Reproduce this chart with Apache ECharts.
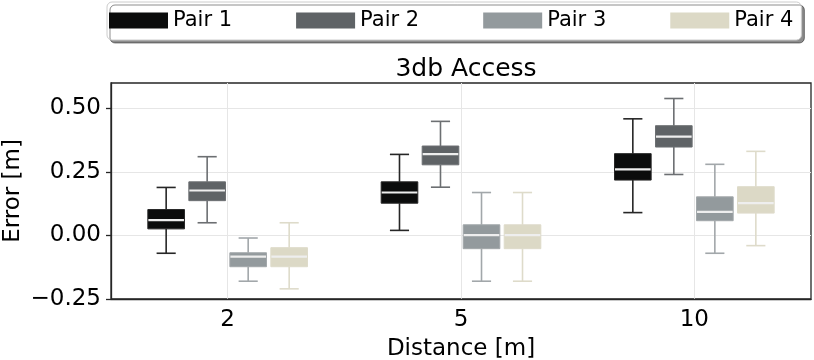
<!DOCTYPE html>
<html><head><meta charset="utf-8">
<script src="https://cdn.jsdelivr.net/npm/echarts@6/dist/echarts.min.js"></script>
<style>html,body{margin:0;padding:0;background:#fff}#c{width:814px;height:360px}</style>
</head><body><div id="c"></div>
<script>
// Distance categories (x axis)
const categories = ['2', '5', '10'];
const seriesNames = ['Pair 1', 'Pair 2', 'Pair 3', 'Pair 4'];
// Box stats per distance: [min whisker, Q1, median, Q3, max whisker]
const pair1 = [[-0.07, 0.026, 0.06, 0.102, 0.189], [0.02, 0.127, 0.169, 0.211, 0.319], [0.09, 0.218, 0.26, 0.322, 0.459]];
const pair2 = [[0.05, 0.137, 0.177, 0.211, 0.31], [0.19, 0.278, 0.32, 0.352, 0.449], [0.24, 0.348, 0.389, 0.432, 0.539]];
const pair3 = [[-0.18, -0.123, -0.083, -0.068, -0.01], [-0.18, -0.052, 0.001, 0.042, 0.169], [-0.07, 0.058, 0.093, 0.152, 0.28]];
const pair4 = [[-0.21, -0.123, -0.083, -0.048, 0.05], [-0.18, -0.052, 0.001, 0.042, 0.169], [-0.04, 0.088, 0.127, 0.192, 0.331]];
const yTicks = [-0.25, 0, 0.25, 0.5];

const pairs = [pair1, pair2, pair3, pair4];
const fills = ['#0b0c0c', '#5f6366', '#939a9d', '#dcd9c6'];
const lineColors = ['#262626', '#6c6f72', '#a2a7aa', '#dedbca'];
const offsets = [-0.2636, -0.0879, 0.0879, 0.2636];
const boxFrac = 0.157, capFrac = 0.082;
const FONT = 'DejaVu Sans';

function makeRender(i) {
  return function (params, api) {
    const c = api.value(0);
    const band = api.size([1, 0])[0];
    const cx = api.coord([c, 0])[0] + offsets[i] * band;
    const w = boxFrac * band, cap = capFrac * band;
    const y = k => api.coord([c, api.value(k)])[1];
    const yMin = y(1), yQ1 = y(2), yMed = y(3), yQ3 = y(4), yMax = y(5);
    const ls = { stroke: lineColors[i], lineWidth: 1.6 };
    return {
      type: 'group',
      children: [
        { type: 'line', shape: { x1: cx, y1: yMax, x2: cx, y2: yQ3 }, style: ls },
        { type: 'line', shape: { x1: cx, y1: yQ1, x2: cx, y2: yMin }, style: ls },
        { type: 'line', shape: { x1: cx - cap / 2, y1: yMax, x2: cx + cap / 2, y2: yMax }, style: ls },
        { type: 'line', shape: { x1: cx - cap / 2, y1: yMin, x2: cx + cap / 2, y2: yMin }, style: ls },
        { type: 'rect', shape: { x: cx - w / 2, y: yQ3, width: w, height: yQ1 - yQ3 },
          style: { fill: fills[i], stroke: lineColors[i], lineWidth: 1 } },
        { type: 'line', shape: { x1: cx - w / 2 + 0.5, y1: yMed, x2: cx + w / 2 - 0.5, y2: yMed },
          style: { stroke: '#eeeeee', lineWidth: 2.2 } }
      ]
    };
  };
}

const series = pairs.map((p, i) => ({
  name: seriesNames[i],
  type: 'custom',
  renderItem: makeRender(i),
  itemStyle: { color: fills[i] },
  encode: { x: 0, y: [1, 2, 3, 4, 5] },
  data: p.map((s, ci) => [ci].concat(s))
}));

const chart = echarts.init(document.getElementById('c'), null, { renderer: 'canvas' });
chart.setOption({
  animation: false,
  backgroundColor: '#ffffff',
  title: {
    text: '3db Access', left: 461, textAlign: 'center', top: 52,
    textStyle: { fontFamily: FONT, fontSize: 25, fontWeight: 'normal', color: '#000' }
  },
  legend: {
    data: seriesNames, left: 107, top: 2, icon: 'rect',
    itemWidth: 59, itemHeight: 16, itemGap: 64,
    padding: [8, 8, 9, 2],
    backgroundColor: '#ffffff', borderColor: '#cccccc', borderWidth: 1, borderRadius: 5,
    shadowColor: 'rgba(0,0,0,0.45)', shadowOffsetX: 3, shadowOffsetY: 3, shadowBlur: 0,
    textStyle: { fontFamily: FONT, fontSize: 21, color: '#000' }
  },
  grid: { left: 111, right: 3, top: 83, bottom: 61, show: true, borderColor: '#262626', borderWidth: 1.3,
    containLabel: false, outerBoundsMode: 'none' },
  xAxis: {
    type: 'category', data: categories, boundaryGap: true,
    name: 'Distance [m]', nameLocation: 'middle', nameGap: 39, nameMoveOverlap: false,
    nameTextStyle: { fontFamily: FONT, fontSize: 23, color: '#000' },
    axisLine: { onZero: false, lineStyle: { color: '#262626', width: 1.3 } },
    axisTick: { alignWithLabel: true, length: 5, lineStyle: { color: '#262626', width: 1.3 } },
    axisLabel: { fontFamily: FONT, fontSize: 23, color: '#000', margin: 10 },
    splitLine: { show: true, alignWithLabel: true, lineStyle: { color: '#e6e6e6', width: 1 } }
  },
  yAxis: {
    type: 'value', min: -0.25, max: 0.6, interval: 0.25,
    name: 'Error [m]', nameLocation: 'middle', nameGap: 86, nameMoveOverlap: false,
    nameTextStyle: { fontFamily: FONT, fontSize: 23, color: '#000' },
    axisLine: { show: true, lineStyle: { color: '#262626', width: 1.3 } },
    axisTick: { show: true, length: 5, customValues: yTicks, lineStyle: { color: '#262626', width: 1.3 } },
    axisLabel: {
      fontFamily: FONT, fontSize: 23, color: '#000', margin: 10, customValues: yTicks,
      formatter: v => (v < 0 ? '\u2212' : '') + Math.abs(v).toFixed(2)
    },
    splitLine: { show: true, lineStyle: { color: '#e6e6e6', width: 1 } }
  },
  series: series
});
</script>
</body></html>
